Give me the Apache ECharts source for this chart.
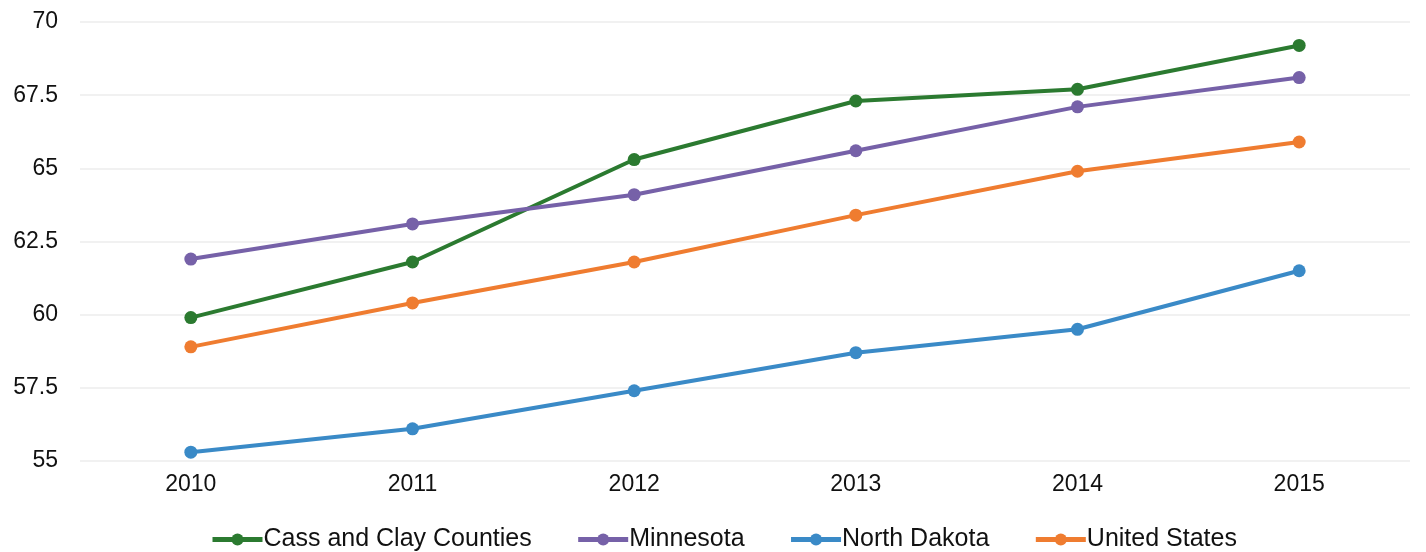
<!DOCTYPE html>
<html>
<head>
<meta charset="utf-8">
<script src="https://cdn.jsdelivr.net/npm/echarts@6/dist/echarts.min.js"></script>
<style>html,body{margin:0;padding:0;background:#fff;}#c{width:1426px;height:552px;}</style>
</head>
<body>
<div id="c"></div>
<script>
const years = ['2010','2011','2012','2013','2014','2015'];
const cassClay = [59.9, 61.8, 65.3, 67.3, 67.7, 69.2];
const minnesota = [61.9, 63.1, 64.1, 65.6, 67.1, 68.1];
const northDakota = [55.3, 56.1, 57.4, 58.7, 59.5, 61.5];
const unitedStates = [58.9, 60.4, 61.8, 63.4, 64.9, 65.9];
const seriesNames = ['Cass and Clay Counties', 'Minnesota', 'North Dakota', 'United States'];
const colors = ['#2b7a30', '#7661a8', '#3a8ac7', '#ef7c30'];
const allData = [cassClay, minnesota, northDakota, unitedStates];

const chart = echarts.init(document.getElementById('c'));
chart.setOption({
  backgroundColor: '#fff',
  animation: false,
  textStyle: { fontFamily: 'Liberation Sans, Arial, sans-serif' },
  grid: { left: 80, right: 16, top: 22, bottom: 91, containLabel: false },
  legend: {
    top: 522,
    left: 205,
    itemWidth: 50,
    itemHeight: 15,
    itemGap: 44,
    lineStyle: { width: 5 },
    textStyle: { fontSize: 25, color: '#111', padding: [0, 0, 0, -4] },
    data: seriesNames
  },
  xAxis: {
    type: 'category',
    data: years,
    boundaryGap: true,
    axisLine: { show: false },
    axisTick: { show: false },
    axisLabel: { fontSize: 23, color: '#111', margin: 12 }
  },
  yAxis: {
    type: 'value',
    min: 55, max: 70, interval: 2.5,
    axisLine: { show: false },
    axisTick: { show: false },
    axisLabel: { fontSize: 23, color: '#111', margin: 22 },
    splitLine: { lineStyle: { color: '#f1f1f1', width: 2 } }
  },
  series: seriesNames.map((n, i) => ({
    name: n,
    type: 'line',
    data: allData[i],
    symbol: 'circle',
    symbolSize: 13,
    lineStyle: { width: 4, color: colors[i] },
    itemStyle: { color: colors[i] }
  }))
});
</script>
</body>
</html>
